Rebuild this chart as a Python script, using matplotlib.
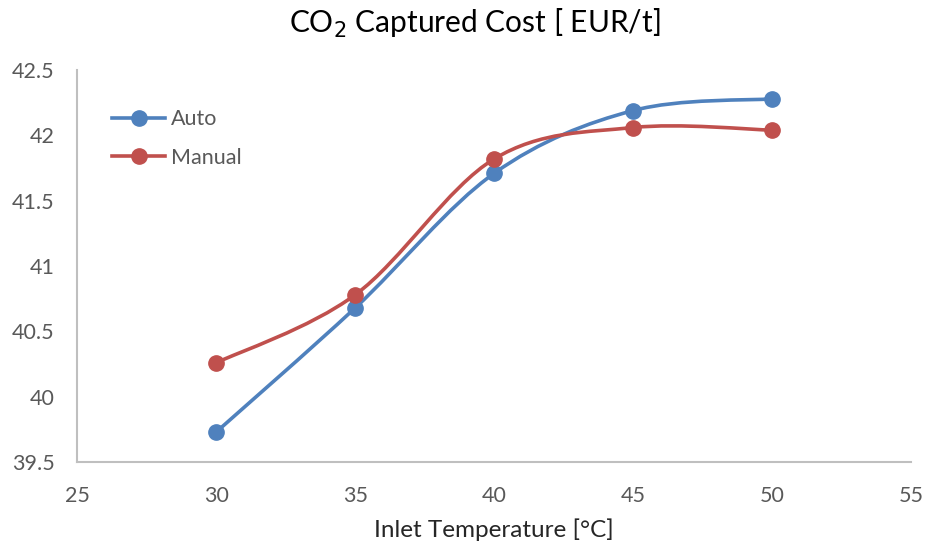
import matplotlib
matplotlib.use("Agg")

import matplotlib.pyplot as plt
import numpy as np
from matplotlib.path import Path
from matplotlib.patches import PathPatch

# data
temps = [30, 35, 40, 45, 50]
auto_cost = [39.73, 40.68, 41.71, 42.19, 42.28]
manual_cost = [40.26, 40.78, 41.82, 42.06, 42.04]

BLUE = "#4F81BD"
RED = "#C0504D"
AXIS_GRAY = "#BFBFBF"
TEXT_GRAY = "#595959"

plt.rcParams["font.family"] = ["Lato", "DejaVu Sans"]


def smooth_path(xs, ys):
    """Excel-style smoothed line: Catmull-Rom converted to cubic Bezier."""
    pts = np.column_stack([xs, ys]).astype(float)
    n = len(pts)
    verts = [pts[0]]
    codes = [Path.MOVETO]
    for i in range(n - 1):
        p0 = pts[i - 1] if i > 0 else pts[i]
        p1 = pts[i]
        p2 = pts[i + 1]
        p3 = pts[i + 2] if i + 2 < n else pts[i + 1]
        c1 = p1 + (p2 - p0) / 6.0
        c2 = p2 - (p3 - p1) / 6.0
        verts += [c1, c2, p2]
        codes += [Path.CURVE4] * 3
    return Path(verts, codes)


fig = plt.figure(figsize=(9.28, 5.47), dpi=100)
ax = fig.add_axes([0.083, 0.155, 0.899, 0.717])

for ys, color, label in [(auto_cost, BLUE, "Auto"), (manual_cost, RED, "Manual")]:
    ax.add_patch(PathPatch(smooth_path(temps, ys), facecolor="none",
                           edgecolor=color, lw=2.6, capstyle="round", zorder=2))
    ax.plot(temps, ys, linestyle="none", marker="o", ms=11, color=color, zorder=3)
    ax.plot([], [], color=color, lw=2.6, marker="o", ms=11, label=label)

ax.set_xlim(25, 55)
ax.set_ylim(39.5, 42.5)
ax.set_xticks([25, 30, 35, 40, 45, 50, 55])
ax.set_yticks([39.5, 40, 40.5, 41, 41.5, 42, 42.5])
ax.set_yticklabels(["39.5", "40", "40.5", "41", "41.5", "42", "42.5"])

for side in ["top", "right"]:
    ax.spines[side].set_visible(False)
for side in ["left", "bottom"]:
    ax.spines[side].set_color(AXIS_GRAY)
    ax.spines[side].set_linewidth(1.5)
ax.tick_params(length=0, labelsize=15.5, labelcolor=TEXT_GRAY)
ax.tick_params(axis="y", pad=16)
ax.tick_params(axis="x", pad=17)

ax.set_xlabel("Inlet Temperature [°C]", fontsize=17.5, color="#262626", labelpad=9)
fig.text(0.512, 0.958, "CO$_2$ Captured Cost [ EUR/t]", fontsize=21.5,
         ha="center", va="center", color="black")

leg = ax.legend(loc="upper left", bbox_to_anchor=(0.111, 0.816),
                bbox_transform=fig.transFigure, frameon=False, fontsize=15.5,
                handlelength=2.5, handletextpad=0.25, labelspacing=0.85,
                borderaxespad=0)
for t in leg.get_texts():
    t.set_color(TEXT_GRAY)

fig.savefig("out.png", dpi=100)
